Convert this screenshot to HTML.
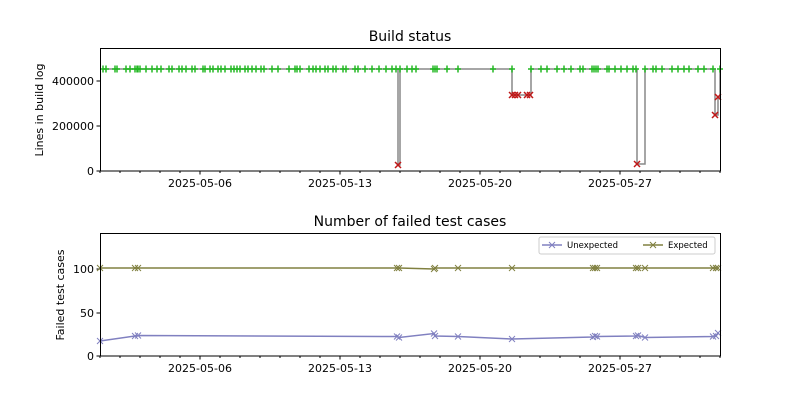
<!DOCTYPE html>
<html><head><meta charset="utf-8"><style>
body{margin:0;background:#fff}
svg{display:block;font-family:"DejaVu Sans","Liberation Sans",sans-serif}
</style></head><body>
<svg id="s" width="800" height="400" xmlns="http://www.w3.org/2000/svg">
<rect width="800" height="400" fill="#fff"/>
<text x="410" y="41" font-size="14" text-anchor="middle">Build status</text>
<text x="410" y="226" font-size="14" text-anchor="middle">Number of failed test cases</text>
<text transform="translate(43,110) rotate(-90)" font-size="11" text-anchor="middle">Lines in build log</text>
<text transform="translate(64,295) rotate(-90)" font-size="11" text-anchor="middle">Failed test cases</text>
<g id="g"></g>
<g font-size="11" text-anchor="end">
<text x="94" y="175">0</text><text x="94" y="130">200000</text><text x="94" y="85">400000</text>
<text x="94" y="360">0</text><text x="94" y="317">50</text><text x="94" y="273">100</text>
</g>
<g font-size="11" text-anchor="middle">
<text x="200" y="187">2025-05-06</text><text x="340" y="187">2025-05-13</text><text x="480" y="187">2025-05-20</text><text x="620" y="187">2025-05-27</text>
<text x="200" y="372">2025-05-06</text><text x="340" y="372">2025-05-13</text><text x="480" y="372">2025-05-20</text><text x="620" y="372">2025-05-27</text>
</g>
<rect x="100.5" y="48.5" width="620" height="122.5" fill="none" stroke="#000" stroke-width="1"/>
<rect x="100.5" y="233.5" width="620" height="122.5" fill="none" stroke="#000" stroke-width="1"/>
<g>
<rect x="539" y="237" width="176" height="17" fill="#fff" stroke="#ccc" rx="2"/>
<line x1="542" y1="245" x2="562" y2="245" stroke="#8080c0" stroke-width="1.5"/>
<path d="M549,242l6,6M555,242l-6,6" stroke="#8080c0"/>
<text x="567" y="248" font-size="8.5">Unexpected</text>
<line x1="643" y1="245" x2="663" y2="245" stroke="#808040" stroke-width="1.5"/>
<path d="M650,242l6,6M656,242l-6,6" stroke="#808040"/>
<text x="668" y="248" font-size="8.5">Expected</text>
</g>
</svg>
<script>
const g=document.getElementById('g');let h='';
function ln(a,b,c,d,col,w){h+=`<line x1="${a}" y1="${b}" x2="${c}" y2="${d}" stroke="${col}" stroke-width="${w||1}"/>`;}
for(let d=-5;d<=32;d++){const x=200+d*20;if(x<100||x>720)continue;const major=((d%7)+7)%7==0;
ln(x,171,x,major?174.5:173,'#000');ln(x,356,x,major?359.5:358,'#000');}
[[171],[126],[81],[356],[313],[269]].forEach(v=>ln(96.5,v[0],100,v[0],'#000'));
const ok=[103,106,115,117,126,130,135,137,138,140,146,152,157,161,169,172,179,182,186,192,195,203,205,210,213,218,221,225,231,234,237,240,245,248,252,256,261,264,272,278,289,295,297,300,309,313,316,320,325,328,333,336,343,346,355,358,365,372,379,386,392,396,400,407,412,416,433,435,437,447,458,493,512,531,541,547,557,564,571,580,583,592,594,596,598,607,609,615,621,627,633,636,645,653,656,662,672,678,684,689,698,704,713,720];
const bad=[[398,165],[512,95],[515,95],[518,95],[527,95],[530,95],[637,164],[715,115],[718,97]];
let pts=ok.map(x=>[x,69]).concat(bad).sort((a,b)=>a[0]-b[0]);
let d='M'+pts[0][0]+','+pts[0][1];for(let i=1;i<pts.length;i++){d+=`H${pts[i][0]}V${pts[i][1]}`;}
h+=`<path d="${d}" fill="none" stroke="#888" stroke-width="1.5"/>`;
ok.forEach(x=>{const y=69;ln(x-3,y,x+3,y,'#22b822',1.5);ln(x,y-3.5,x,y+3.5,'#22b822',1.5);});
bad.forEach(p=>{ln(p[0]-3,p[1]-3,p[0]+3,p[1]+3,'#c01818',1.5);ln(p[0]-3,p[1]+3,p[0]+3,p[1]-3,'#c01818',1.5);});
const bx=[100,135,138,397,399,434,435,458,512,593,595,597,636,638,645,713,716,718];
const ue=[341,336,335.5,336.5,337.5,333.5,336,336.5,339,337,336,336.5,336,335.5,337.5,336.5,336,333];
const ex=bx.map(x=>x==434?269:268);
function series(ys,col){let p=bx.map((x,i)=>x+','+ys[i]).join(' ');h+=`<polyline points="${p}" fill="none" stroke="${col}" stroke-width="1.5"/>`;
bx.forEach((x,i)=>{const y=ys[i];ln(x-3,y-3,x+3,y+3,col,1);ln(x-3,y+3,x+3,y-3,col,1);});}
series(ex,'#808040');series(ue,'#8080c0');
g.innerHTML=h;
</script>
</body></html>
